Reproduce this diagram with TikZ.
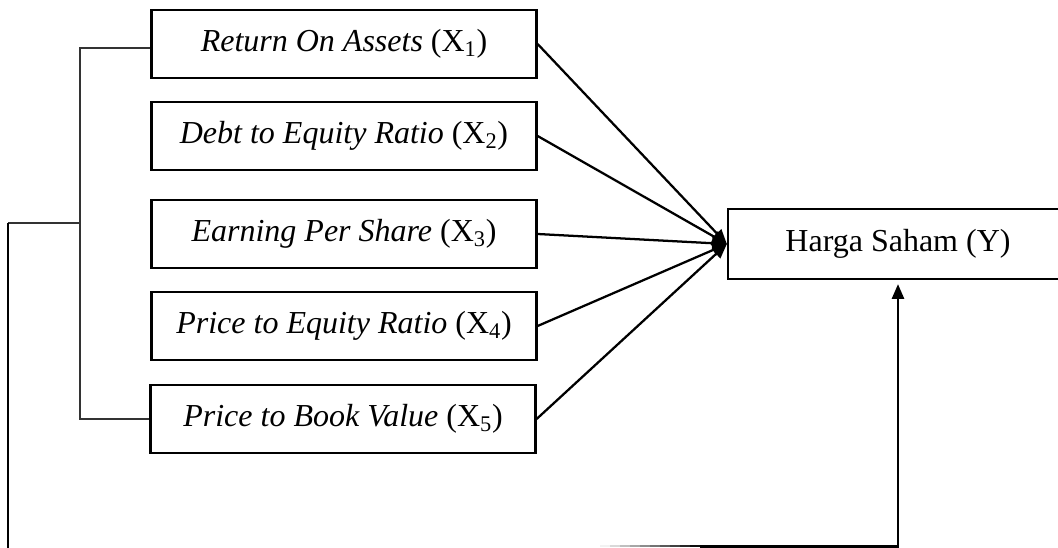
\documentclass[tikz,border=0pt]{standalone}
\usepackage{fontspec}
\setmainfont{Liberation Serif}
\usetikzlibrary{arrows.meta}
\begin{document}
\begin{tikzpicture}[x=0.75pt,y=-0.75pt,
  varbox/.style={draw, line width=1.7pt, minimum width=385*0.75pt,
    minimum height=68*0.75pt, inner sep=0pt,
    font=\fontsize{24}{28}\selectfont},
  ybox/.style={varbox, minimum width=340*0.75pt, minimum height=70*0.75pt},
  link/.style={line width=1.7pt, -{Triangle[length=11pt,width=9pt]}},
  bracket/.style={line width=0.9pt, draw=black!80}]
\useasboundingbox (0,0) rectangle (1058,548);
\clip (0,0) rectangle (1058,548);

\node[varbox] (x1) at (344,44)  {\textit{Return On Assets} (X\textsubscript{1})};
\node[varbox] (x2) at (344,136) {\textit{Debt to Equity Ratio} (X\textsubscript{2})};
\node[varbox] (x3) at (344,234) {\textit{Earning Per Share} (X\textsubscript{3})};
\node[varbox] (x4) at (344,326) {\textit{Price to Equity Ratio} (X\textsubscript{4})};
\node[varbox] (x5) at (343,419) {\textit{Price to Book Value} (X\textsubscript{5})};
\node[ybox] (y) at (898,244) {Harga Saham (Y)};

% direct effects
\foreach \v in {x1,x2,x3,x4,x5}
  \draw[link] (\v.east) -- (y.west);

% bracket grouping the five variables
\coordinate (bt) at (80,48);
\coordinate (bb) at (80,419);
\coordinate (bm) at (80,223);
\coordinate (lm) at (8,223);
\coordinate (lb) at (8,548);
\draw[bracket] (x1.west |- bt) -- (bt) -- (bb) -- (x5.west |- bb);
\draw[bracket] (bm) -- (lm);
\draw[line width=1.3pt] (lm) -- (lb);

% simultaneous effect, its line fading in from the left
\foreach \i in {0,...,9}
  \draw[line width=1.5pt, draw=black!\the\numexpr\i*10+5\relax]
    ({600+\i*10},546.5) -- ({611+\i*10},546.5);
\coordinate (rs) at (700,546.5);
\coordinate (rc) at (898,546.5);
\draw[link, shorten >=3pt] (rs) -- (rc) -- (y.south -| rc);
\end{tikzpicture}
\end{document}
